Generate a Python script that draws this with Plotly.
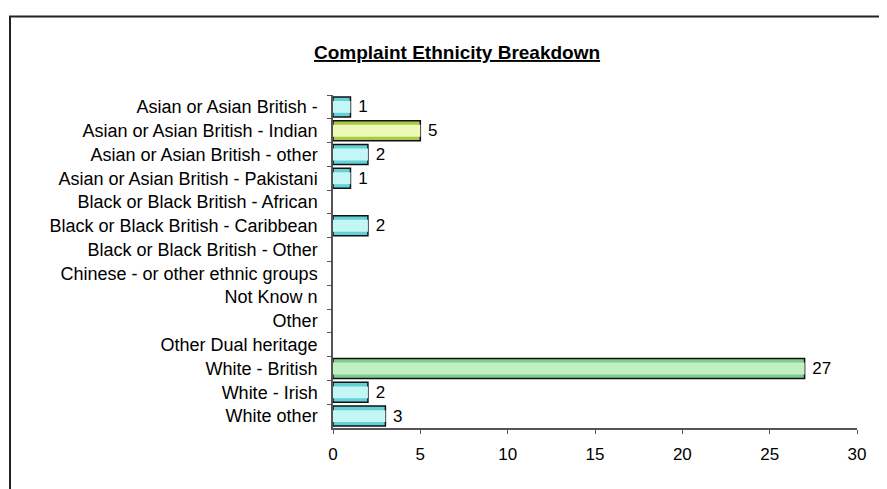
import plotly.graph_objects as go

categories = [
    "Asian or Asian British -",
    "Asian or Asian British - Indian",
    "Asian or Asian British - other",
    "Asian or Asian British - Pakistani",
    "Black or Black British - African",
    "Black or Black British - Caribbean",
    "Black or Black British - Other",
    "Chinese - or other ethnic groups",
    "Not Know n",
    "Other",
    "Other Dual heritage",
    "White - British",
    "White - Irish",
    "White other",
]
counts = [1, 5, 2, 1, 0, 2, 0, 0, 0, 0, 0, 27, 2, 3]
x_ticks = [0, 5, 10, 15, 20, 25, 30]

edge_colors = []
mid_colors = []
for c in categories:
    if c == "Asian or Asian British - Indian":
        edge_colors.append("#a9c94a"); mid_colors.append("#eef8b8")
    elif c == "White - British":
        edge_colors.append("#80cc90"); mid_colors.append("#c2f0c4")
    else:
        edge_colors.append("#62d2d6"); mid_colors.append("#c4f6f6")

labels = [" " + str(v) if v > 0 else "" for v in counts]
line_widths = [1.5 if v > 0 else 0 for v in counts]
font = "Liberation Sans, Arial, sans-serif"

# the page body has an 8px margin; figure coordinates are offset accordingly
OFF = 8
PL, PR, PT, PB = 333 - OFF, 857 - OFF, 95 - OFF, 428 - OFF
W, H = 887, 489
pw, ph = PR - PL, PB - PT

fig = go.Figure()
fig.add_trace(go.Bar(
    y=categories, x=counts, orientation="h",
    marker=dict(color=edge_colors, line=dict(color="#111111", width=line_widths)),
    width=0.84,
    text=labels, textposition="outside", cliponaxis=False,
    textfont=dict(family=font, size=17, color="#000000"),
    hoverinfo="x+y",
))
fig.add_trace(go.Bar(
    y=categories, x=counts, orientation="h",
    marker=dict(color=mid_colors, line=dict(width=0)),
    width=0.5, hoverinfo="skip",
))

fig.update_layout(
    width=W, height=H,
    barmode="overlay",
    showlegend=False,
    plot_bgcolor="white", paper_bgcolor="white",
    margin=dict(l=PL, r=W - PR, t=PT, b=H - PB),
    font=dict(family=font, size=17, color="#000000"),
    annotations=[dict(
        text="<u><b>Complaint Ethnicity Breakdown</b></u>",
        xref="paper", yref="paper",
        x=(457 - OFF - PL) / pw, y=1.0 + (PT - (53 - OFF)) / ph,
        xanchor="center", yanchor="middle", showarrow=False,
        font=dict(family=font, size=19, color="#000000"),
    )],
    shapes=[dict(
        type="rect", xref="paper", yref="paper",
        x0=(10 - OFF - PL) / pw, x1=(920 - PL) / pw,
        y0=-(520 - PB) / ph, y1=1.0 + (PT - (16.5 - OFF)) / ph,
        line=dict(color="#222222", width=2), fillcolor="rgba(0,0,0,0)",
        layer="below",
    )],
)
fig.update_xaxes(
    range=[0, 30], tickvals=x_ticks, showgrid=False, zeroline=False,
    showline=True, linecolor="#555555", linewidth=1.5,
    ticks="outside", ticklen=4, tickcolor="#555555",
    ticklabelstandoff=6, tickfont=dict(size=17),
)
fig.update_yaxes(
    autorange="reversed", showgrid=False, zeroline=False,
    showline=True, linecolor="#555555", linewidth=1.5,
    ticks="outside", ticklen=4, tickcolor="#555555", tickson="boundaries",
    ticklabelstandoff=10, tickfont=dict(size=18),
)

fig.write_html("out.html")
